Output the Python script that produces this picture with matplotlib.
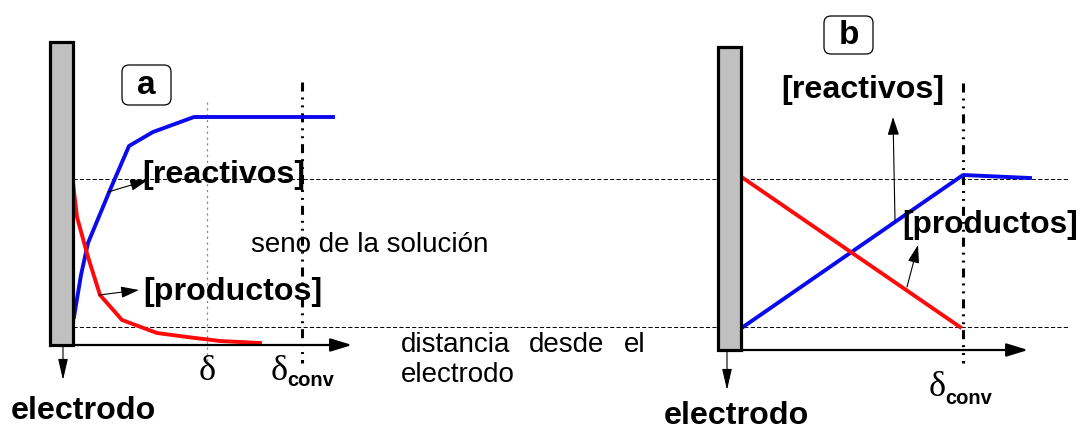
import matplotlib
matplotlib.use("Agg")
import matplotlib.pyplot as plt
from matplotlib.patches import Rectangle, FancyBboxPatch, FancyArrowPatch

plt.rcParams['lines.scale_dashes'] = False

# ---- profile data (canvas units: x to the right, y downward) ----
# panel a: diffusion layer with curved profiles
react_a_x = [74, 81, 88, 110, 129, 153, 194, 247, 333]
react_a_y = [317, 275, 243, 190, 146, 132, 117, 117, 117]
prod_a_x = [73, 77, 88, 100, 122, 157, 187, 220, 260]
prod_a_y = [183, 217, 257, 295, 320, 333, 337, 341, 343]

# panel b: linear profiles up to the convective layer
react_b_x = [743, 963, 1030]
react_b_y = [327, 175, 178]
prod_b_x = [743, 960]
prod_b_y = [178, 327]

bulk_levels = [179, 327]          # dashed reference concentration levels
delta_x = 207                     # diffusion layer thickness, panel a
delta_conv = [302, 963]           # convective layer thickness, panels a and b

SANS = ['Liberation Sans', 'DejaVu Sans']
SERIF = ['Liberation Serif', 'DejaVu Serif']

fig = plt.figure(figsize=(10.81, 4.30), dpi=100)
ax = fig.add_axes([0, 0, 1, 1])
ax.set_xlim(0, 1081)
ax.set_ylim(430, 0)
ax.axis('off')

BLUE = '#0a0aee'
RED = '#ff0a0a'

# bulk concentration reference lines
for yl in bulk_levels:
    ax.plot([73, 1068], [yl, yl], color='black', lw=0.7,
            dashes=(3, 1.6), zorder=1)

# vertical markers
ax.plot([delta_x, delta_x], [102, 363], color='#888888', lw=0.9,
        dashes=(1.6, 2.6), zorder=1)
dashdot = (6.5, 4.3, 1.4, 4.3, 1.4, 4.3)
ax.plot([delta_conv[0]] * 2, [82, 363], color='black', lw=2.2,
        dashes=dashdot, zorder=2)
ax.plot([delta_conv[1]] * 2, [83, 363], color='black', lw=2.2,
        dashes=dashdot, zorder=2)


def electrode(x0, y0, y1, arrow_x, arrow_end, axis_end, label_x, label_y):
    ax.add_patch(Rectangle((x0, y0), 23, y1 - y0, facecolor='#c0c0c0',
                           edgecolor='black', lw=2.3, zorder=5))
    ax.add_patch(FancyArrowPatch((x0 + 23, y1), (axis_end, y1),
                                 arrowstyle='-|>,head_length=1.3,head_width=0.4',
                                 mutation_scale=10, color='black', lw=1.6,
                                 shrinkA=0, shrinkB=0, zorder=4))
    ax.add_patch(FancyArrowPatch((arrow_x, y1), (arrow_x, arrow_end),
                                 arrowstyle='-|>,head_length=1.3,head_width=0.3',
                                 mutation_scale=10, color='black', lw=0.8,
                                 shrinkA=0, shrinkB=0, zorder=6))
    ax.text(label_x, label_y, 'electrodo', family=SANS, weight='bold',
            fontsize=23.2, ha='left', va='baseline')


electrode(50, 42, 345, 63, 380, 352, 11, 419)
electrode(718, 47, 350, 727, 390, 1028, 664, 424)

# profiles
ax.plot(react_a_x, react_a_y, color=BLUE, lw=2.8, zorder=3)
ax.plot(prod_a_x, prod_a_y, color=RED, lw=2.8, zorder=3)
ax.plot(react_b_x, react_b_y, color=BLUE, lw=2.8, zorder=3)
ax.plot(prod_b_x, prod_b_y, color=RED, lw=2.8, zorder=3)


def label_box(x0, y0, w, h, s):
    ax.add_patch(FancyBboxPatch((x0, y0), w, h,
                                boxstyle='round,pad=0,rounding_size=7',
                                facecolor='white', edgecolor='black', lw=0.9,
                                zorder=5))
    ax.text(x0 + w / 2, y0 + h / 2 + 1, s, family=SANS, weight='bold',
            fontsize=24, ha='center', va='center', zorder=6)


label_box(122, 65, 49, 40, 'a')
label_box(824, 16, 49, 38, 'b')


def pointer(xy_from, xy_to):
    ax.add_patch(FancyArrowPatch(xy_from, xy_to,
                                 arrowstyle='-|>,head_length=1.1,head_width=0.35',
                                 mutation_scale=10, color='black', lw=0.8,
                                 shrinkA=0, shrinkB=0, zorder=6))


bold = dict(family=SANS, weight='bold', fontsize=23.2, ha='left',
            va='baseline', zorder=7)
ax.text(142, 183, '[reactivos]', **bold)
ax.text(143, 300, '[productos]', **bold)
pointer((108, 192), (148, 180))
pointer((99, 295), (139, 290))

ax.text(781, 98, '[reactivos]', **bold)
ax.text(902, 233, '[productos]', fontsize=22.8,
        **{k: v for k, v in bold.items() if k != 'fontsize'})
pointer((895, 220), (893, 117))
pointer((907, 287), (918, 245))

reg = dict(family=SANS, fontsize=20, ha='left', va='baseline')
ax.text(251, 252, 'seno de la solución', **reg)
ax.text(401, 352, 'distancia', **reg)
ax.text(529, 352, 'desde', **reg)
ax.text(624, 352, 'el', **reg)
ax.text(401, 382, 'electrodo', **reg)

# layer thickness labels
dl = dict(family=SERIF, fontsize=26, va='baseline')
sub = dict(family=SANS, weight='bold', fontsize=14.5, ha='left', va='baseline')
ax.text(delta_x, 380, 'δ', ha='center', **dl)
ax.text(271, 380, 'δ', ha='left', **dl)
ax.text(287, 386, 'conv', **sub)
ax.text(929, 396, 'δ', ha='left', **dl)
ax.text(945, 404, 'conv', **sub)

fig.savefig('out.png', dpi=100)
